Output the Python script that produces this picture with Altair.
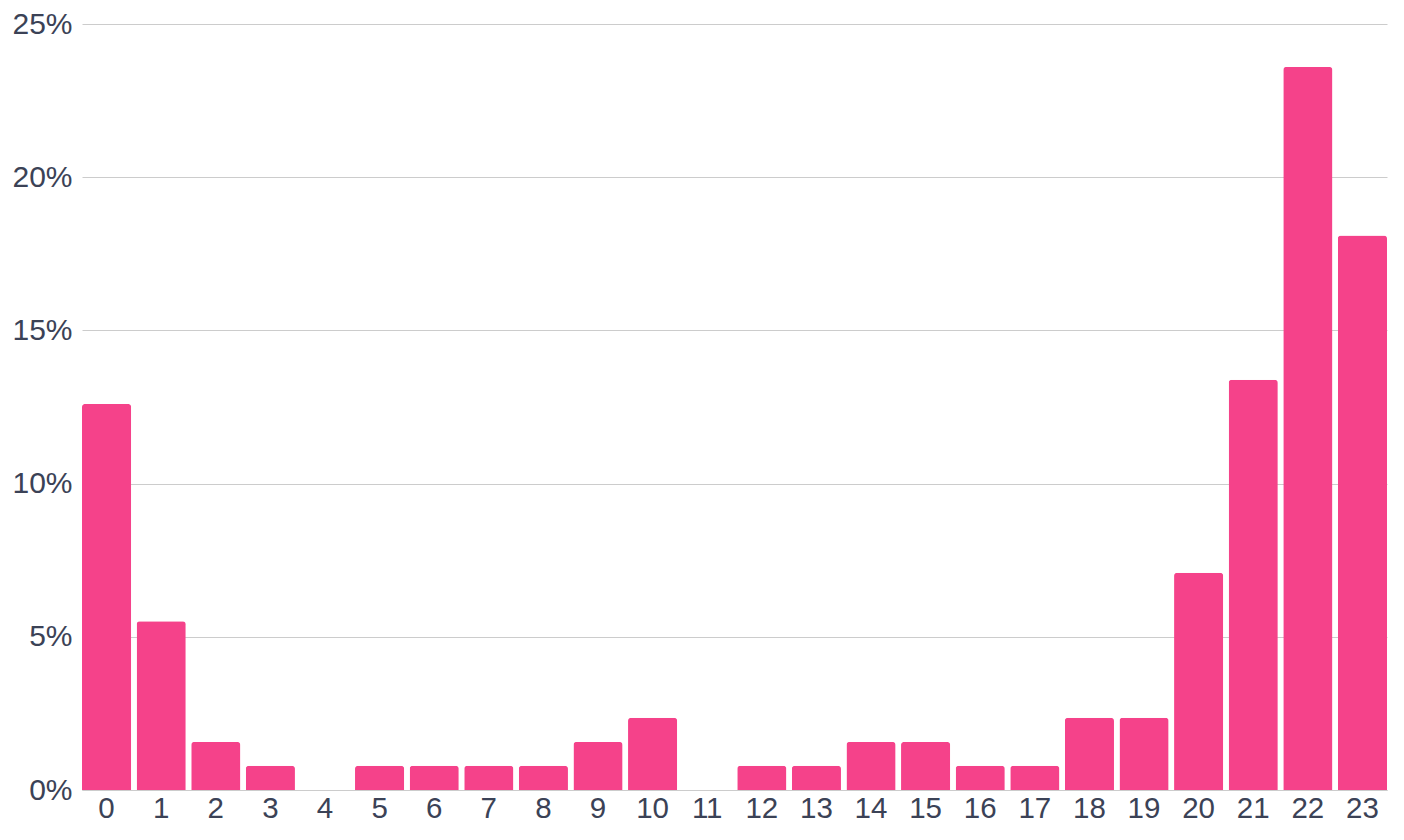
import altair as alt
import pandas as pd

hours = [str(h) for h in range(24)]
share = [12.6, 5.51, 1.57, 0.79, 0.0, 0.79, 0.79, 0.79, 0.79, 1.57, 2.36, 0.0,
         0.79, 0.79, 1.57, 1.57, 0.79, 0.79, 2.36, 2.36, 7.09, 13.39, 23.6, 18.1]

df = pd.DataFrame({"hour": hours, "share": [v / 100 for v in share]})

chart = alt.Chart(df).mark_bar(
    color="#F5428A", cornerRadiusTopLeft=3, cornerRadiusTopRight=3
).encode(
    x=alt.X("hour:N", sort=hours, title=None,
            scale=alt.Scale(paddingInner=0.1, paddingOuter=0),
            axis=alt.Axis(labelAngle=0, labelFontSize=29.5, labelColor="#3B4256",
                          labelFont="Liberation Sans", ticks=False, domain=True,
                          domainColor="#CCCCCC", labelPadding=4, grid=False)),
    y=alt.Y("share:Q", title=None,
            scale=alt.Scale(domain=[0, 0.25], nice=False),
            axis=alt.Axis(format=".0%", values=[0, 0.05, 0.1, 0.15, 0.2, 0.25],
                          labelFontSize=30, labelColor="#3B4256",
                          labelFont="Liberation Sans", ticks=False, domain=False,
                          gridColor="#CCCCCC", labelPadding=10)),
).properties(
    width=1305, height=766,
    autosize=alt.AutoSizeParams(type="none"),
    padding={"left": 74, "top": 16, "right": 9, "bottom": 42},
).configure_view(stroke=None)

chart.save("out.html", embed_options={"renderer": "svg", "actions": False})
